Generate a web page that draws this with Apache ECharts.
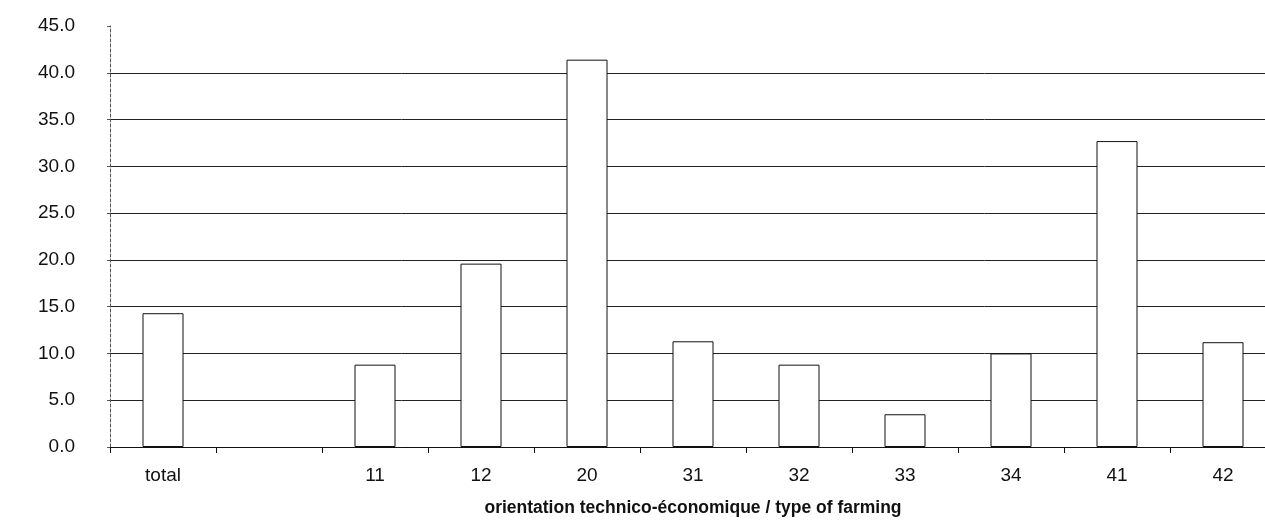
<!DOCTYPE html>
<html>
<head>
<meta charset="utf-8">
<script src="https://cdn.jsdelivr.net/npm/echarts@6/dist/echarts.min.js"></script>
<style>
html,body{margin:0;padding:0;background:#fff;overflow:hidden;width:1265px;height:524px;}
#c{width:1280px;height:524px;}
</style>
</head>
<body>
<div id="c"></div>
<script>
const categories = ['total', '', '11', '12', '20', '31', '32', '33', '34', '41', '42'];
const values = [14.3, null, 8.8, 19.6, 41.4, 11.3, 8.8, 3.5, 10.0, 32.7, 11.2];
const yTicks = { min: 0, max: 45, interval: 5 };
const axisTitle = 'orientation technico-économique / type of farming';

const chart = echarts.init(document.getElementById('c'), null, { renderer: 'canvas' });
chart.setOption({
  animation: false,
  backgroundColor: '#fff',
  textStyle: { fontFamily: 'Liberation Sans, Arial, sans-serif' },
  grid: { left: 110, right: 4, top: 26, bottom: 77, containLabel: false },
  xAxis: {
    type: 'category',
    data: categories,
    boundaryGap: true,
    axisLine: { show: true, lineStyle: { color: '#111', width: 1 } },
    axisTick: { show: true, length: 6, inside: false, lineStyle: { color: '#111' } },
    axisLabel: { fontSize: 19, color: '#111', margin: 19, interval: 0, fontFamily: 'Liberation Sans' },
    name: axisTitle,
    nameLocation: 'middle',
    nameGap: 52,
    nameTextStyle: { fontSize: 17.5, fontWeight: 'bold', color: '#111', fontFamily: 'Liberation Sans' },
    splitLine: { show: false }
  },
  yAxis: {
    type: 'value',
    min: yTicks.min,
    max: yTicks.max,
    interval: yTicks.interval,
    axisLine: { show: true, lineStyle: { color: '#555', width: 1, type: [3, 2] } },
    axisTick: { show: true, length: 3, lineStyle: { color: '#555' } },
    axisLabel: { fontSize: 19, color: '#111', margin: 35, formatter: v => v.toFixed(1), fontFamily: 'Liberation Sans' },
    splitLine: { show: true, showMaxLine: false, lineStyle: { color: '#222', width: 1 } }
  },
  series: [{
    type: 'bar',
    data: values,
    barWidth: 41,
    itemStyle: { color: '#fff', borderColor: '#111', borderWidth: 1 },
    emphasis: { disabled: true }
  }]
});
</script>
</body>
</html>
